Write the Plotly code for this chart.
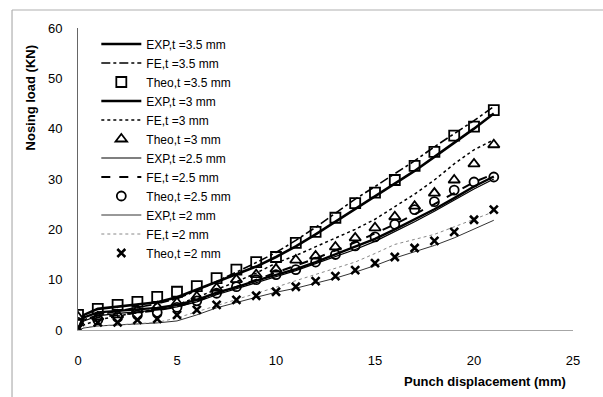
import plotly.graph_objects as go

# ---- data ----
x_exp = [0, 0.3, 1, 2, 3, 4, 5, 6, 7, 8, 9, 10, 11, 12, 13, 14, 15, 16, 17, 18, 19, 20, 21]
exp_35 = [0, 3.0, 4.2, 4.6, 5.0, 5.5, 6.5, 8.0, 9.5, 11.0, 12.6, 14.5, 16.6, 19.0, 21.5, 24.0, 26.5, 29.0, 31.6, 34.4, 37.2, 40.0, 43.0]
fe_35 = [0, 2.0, 3.0, 3.8, 4.5, 5.2, 6.2, 7.8, 9.6, 11.5, 13.4, 15.4, 17.8, 20.4, 23.2, 26.0, 28.5, 31.0, 33.6, 36.4, 39.0, 41.6, 44.4]
exp_3 = [0, 2.5, 3.5, 3.8, 4.0, 4.4, 5.0, 6.0, 7.4, 8.5, 9.8, 11.0, 12.1, 13.5, 15.0, 16.5, 18.1, 20.0, 22.0, 24.0, 26.2, 28.5, 30.5]
fe_3 = [0, 1.0, 2.0, 2.8, 3.5, 4.2, 5.0, 6.5, 8.0, 9.6, 11.3, 13.3, 14.8, 16.5, 18.2, 20.0, 22.0, 24.5, 27.0, 29.8, 33.0, 35.8, 37.8]
exp_25 = [0, 1.8, 2.8, 3.3, 3.6, 4.0, 4.6, 5.6, 7.0, 8.2, 9.5, 10.7, 11.8, 13.2, 14.6, 16.0, 17.6, 19.5, 21.5, 23.6, 25.8, 28.0, 30.0]
fe_25 = [0, 1.5, 2.5, 3.0, 3.4, 3.9, 4.6, 5.8, 7.2, 8.6, 10.0, 11.4, 12.7, 14.2, 15.8, 17.4, 19.2, 21.0, 23.0, 25.0, 27.2, 29.4, 31.0]
exp_2 = [0, 0.4, 0.8, 1.0, 1.2, 1.4, 1.8, 3.0, 4.4, 5.5, 6.5, 7.5, 8.3, 9.3, 10.3, 11.5, 12.8, 14.3, 15.5, 16.8, 18.3, 20.0, 21.8]
fe_2 = [0, 0.5, 0.8, 1.0, 1.2, 1.5, 2.4, 3.6, 4.8, 6.0, 7.2, 8.5, 9.8, 11.0, 12.2, 13.5, 15.2, 17.0, 18.0, 19.0, 20.5, 22.0, 23.5]

x_theo = [0, 1, 2, 3, 4, 5, 6, 7, 8, 9, 10, 11, 12, 13, 14, 15, 16, 17, 18, 19, 20, 21]
theo_35 = [3.0, 4.2, 5.0, 5.6, 6.6, 7.6, 8.7, 10.3, 12.0, 13.5, 14.5, 17.3, 19.5, 22.3, 25.2, 27.3, 29.8, 32.6, 35.4, 38.6, 40.4, 43.7]
theo_3 = [2.6, 2.6, 3.0, 4.0, 4.6, 5.4, 6.6, 8.3, 10.0, 11.0, 12.1, 13.9, 14.7, 16.5, 18.3, 20.3, 22.5, 24.6, 27.2, 29.8, 33.0, 36.8]
theo_25 = [1.5, 2.0, 2.5, 3.0, 3.5, 4.5, 5.8, 7.3, 8.6, 10.0, 11.0, 12.0, 13.5, 15.0, 16.7, 18.5, 21.0, 23.9, 25.5, 27.8, 29.4, 30.4]
theo_2 = [0.5, 1.5, 1.5, 2.0, 2.2, 3.0, 4.0, 5.0, 6.0, 6.8, 7.6, 8.6, 9.7, 10.7, 11.9, 13.3, 14.5, 16.3, 17.7, 19.5, 21.9, 23.9]

x_ticks = [0, 5, 10, 15, 20, 25]
y_ticks = [0, 10, 20, 30, 40, 50, 60]

FONT = "Liberation Sans"

fig = go.Figure()

def line(name, x, y, width, dash="solid", color="black"):
    fig.add_trace(go.Scatter(x=x, y=y, name=name, mode="lines",
                             line=dict(color=color, width=width, dash=dash)))

def marks(name, x, y, symbol, size=9, lw=1.8):
    fig.add_trace(go.Scatter(x=x, y=y, name=name, mode="markers",
                             marker=dict(symbol=symbol, size=size, color="black",
                                         line=dict(color="black", width=lw))))

line("EXP,t =3.5 mm", x_exp, exp_35, 2.6)
line("FE,t =3.5 mm", x_exp, fe_35, 1.6, "dashdot")
marks("Theo,t =3.5 mm", x_theo, theo_35, "square-open", 10)
line("EXP,t =3 mm", x_exp, exp_3, 2.4)
line("FE,t =3 mm", x_exp, fe_3, 1.5, "dot")
marks("Theo,t =3 mm", x_theo, theo_3, "triangle-up-open", 10)
line("EXP,t =2.5 mm", x_exp, exp_25, 1.2)
line("FE,t =2.5 mm", x_exp, fe_25, 2.0, "dash")
marks("Theo,t =2.5 mm", x_theo, theo_25, "circle-open", 9)
line("EXP,t =2 mm", x_exp, exp_2, 1.0, color="#333333")
line("FE,t =2 mm", x_exp, fe_2, 1.0, "dot", color="#888888")
marks("Theo,t =2 mm", x_theo, theo_2, "x-thin-open", 8, 2.6)

fig.update_layout(
    width=603, height=397,
    margin=dict(l=78, r=30, t=28, b=67),
    paper_bgcolor="white", plot_bgcolor="white",
    font=dict(family=FONT, size=12, color="black"),
    showlegend=True,
    legend=dict(x=0.037, y=0.995, xanchor="left", yanchor="top",
                bgcolor="rgba(0,0,0,0)", itemwidth=40, tracegroupgap=0,
                font=dict(family=FONT, size=12, color="black")),
    xaxis=dict(range=[0, 25], tickvals=x_ticks, showgrid=False, zeroline=False,
               showline=True, linecolor="#a6a6a6", linewidth=1.2,
               ticks="", ticklabelstandoff=18,
               tickfont=dict(family=FONT, size=13)),
    yaxis=dict(range=[0, 60], tickvals=y_ticks, showgrid=False, zeroline=False,
               showline=True, linecolor="#666666", linewidth=1,
               ticks="", ticklabelstandoff=12,
               tickfont=dict(family=FONT, size=13)),
    shapes=[
        dict(type="line", xref="paper", yref="paper", x0=-0.1333, x1=1.07, y0=1.0596, y1=1.0596,
             line=dict(color="#b0b0b0", width=1.2)),
        dict(type="line", xref="paper", yref="paper", x0=-0.1333, x1=-0.1333, y0=1.0596, y1=-0.25,
             line=dict(color="#b0b0b0", width=1.2)),
    ],
    annotations=[
        dict(text="<b>Punch displacement (mm)</b>", xref="paper", yref="paper",
             x=0.99, y=-0.17, xanchor="right", yanchor="middle", showarrow=False,
             font=dict(family=FONT, size=13, color="black")),
        dict(text="<b>Nosing load (KN)</b>", xref="paper", yref="paper",
             x=-0.097, y=0.77, xanchor="center", yanchor="middle", textangle=-90,
             showarrow=False, font=dict(family=FONT, size=13, color="black")),
    ],
)

fig.write_html("out.html")
